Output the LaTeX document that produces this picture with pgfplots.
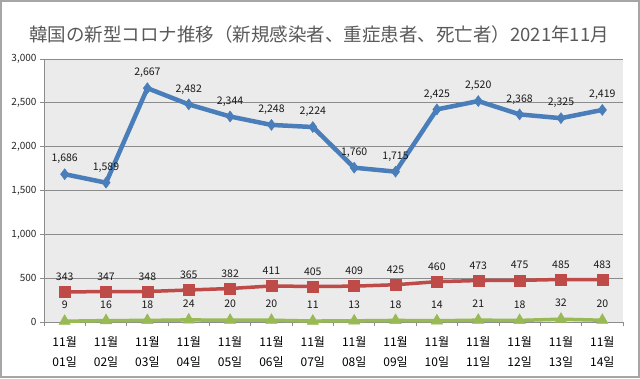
\documentclass[border=0pt]{standalone}
\usepackage{fontspec}
\setmainfont{Noto Sans CJK JP}
\usepackage{pgfplots}
\pgfplotsset{compat=1.18}
\definecolor{cblue}{HTML}{4A7EBB}
\definecolor{cred}{HTML}{BE4B48}
\definecolor{cgreen}{HTML}{98B954}
\definecolor{bgray}{HTML}{EBEBEB}
\definecolor{tgray}{HTML}{595959}
\begin{document}
\begin{tikzpicture}[x=1pt,y=1pt]
\path[use as bounding box] (0,0) rectangle (640,378);
\draw[black!35, line width=1.5pt] (1,1) rectangle (639,377);
\node[anchor=west, font=\fontsize{18.5}{20}\selectfont, text=tgray, inner sep=0] at (29,344) {韓国の新型コロナ推移（新規感染者、重症患者、死亡者）2021年11月};
\begin{axis}[at={(44pt,56pt)}, anchor=south west, scale only axis,
 width=579pt, height=263pt,
 xmin=-0.5, xmax=13.5, ymin=0, ymax=3000,
 axis background/.style={fill=bgray},
 axis lines*=left,
 axis line style={black!45, line width=0.8pt},
 ytick={0,500,...,3000},
 ymajorgrids, major grid style={black!45, line width=0.8pt},
 tick align=outside,
 major tick length=4pt,
 tick style={black!45, line width=0.8pt},
 /pgf/number format/.cd, 1000 sep={,}, assume math mode=true, /pgfplots/.cd,
 yticklabel style={font=\fontsize{10}{12}\selectfont, text=black!85},
 xtick={0,...,13},
 xticklabels={{11월\\01일},{11월\\02일},{11월\\03일},{11월\\04일},{11월\\05일},{11월\\06일},{11월\\07일},{11월\\08일},{11월\\09일},{11월\\10일},{11월\\11일},{11월\\12일},{11월\\13일},{11월\\14일}},
 xticklabel style={font=\fontsize{12}{20}\selectfont, align=center, text=black, yshift=-7pt},
 x tick style={draw=none},
 extra x ticks={-0.5,0.5,...,13.5},
 extra x tick labels={},
 extra x tick style={x tick style={draw=black!45}},
 clip=false,
 nodes near coords,
 every node near coord/.append style={font=\fontsize{10.5}{12}\selectfont, text=black!90, anchor=south, inner sep=1pt},
]
\addplot[cblue, line width=4.5pt, mark=diamond*, mark size=5.5pt, mark options={line width=0.5pt},
 every node near coord/.append style={yshift=9pt}]
 coordinates {(0,1686)(1,1589)(2,2667)(3,2482)(4,2344)(5,2248)(6,2224)(7,1760)(8,1715)(9,2425)(10,2520)(11,2368)(12,2325)(13,2419)};
\addplot[cred, line width=3.5pt, mark=square*, mark size=5.5pt, mark options={line width=0.5pt},
 every node near coord/.append style={yshift=10pt}]
 coordinates {(0,343)(1,347)(2,348)(3,365)(4,382)(5,411)(6,405)(7,409)(8,425)(9,460)(10,473)(11,475)(12,485)(13,483)};
\addplot[cgreen, line width=3.5pt, mark=triangle*, mark size=6.5pt, mark options={line width=0.5pt},
 every node near coord/.append style={yshift=11pt}]
 coordinates {(0,9)(1,16)(2,18)(3,24)(4,20)(5,20)(6,11)(7,13)(8,18)(9,14)(10,21)(11,18)(12,32)(13,20)};
\end{axis}
\end{tikzpicture}
\end{document}
